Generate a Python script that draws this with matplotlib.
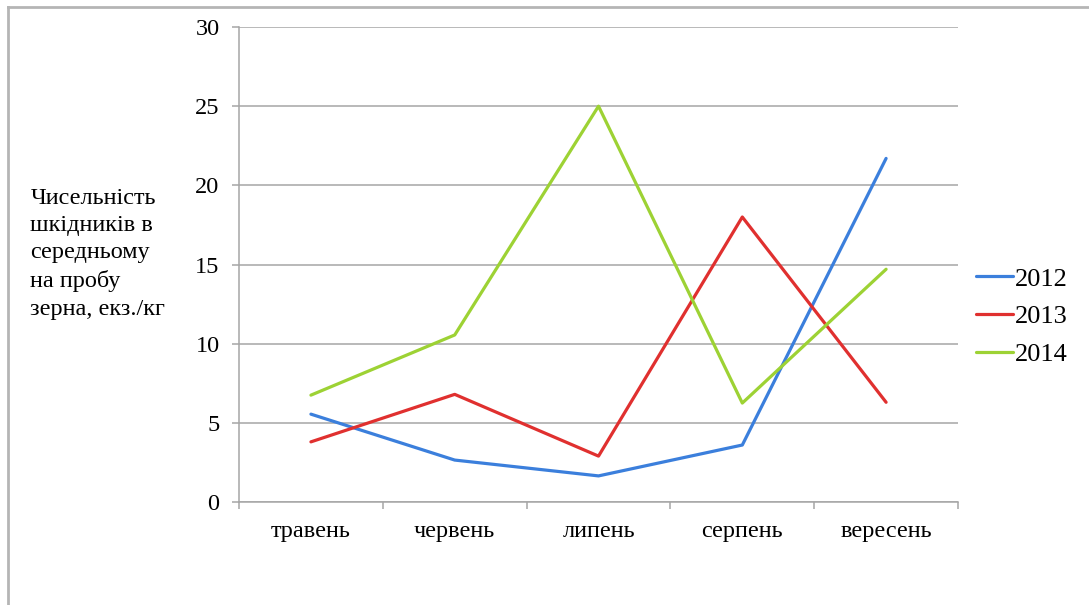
import matplotlib.pyplot as plt
from matplotlib.lines import Line2D
from matplotlib.ticker import FixedLocator

plt.rcParams['font.family'] = ['Liberation Serif', 'DejaVu Serif']

months = ['травень', 'червень', 'липень', 'серпень', 'вересень']
y2012 = [5.55, 2.65, 1.65, 3.6, 21.7]
y2013 = [3.8, 6.8, 2.9, 18.0, 6.3]
y2014 = [6.75, 10.55, 25.0, 6.25, 14.7]
years = ['2012', '2013', '2014']
colors = ['#3b7fdc', '#e0302f', '#9dd234']

fig = plt.figure(figsize=(10.89, 6.05), dpi=100)
ax = fig.add_axes([0.2195, 0.1702, 0.6602, 0.7852])

x = range(len(months))
for vals, name, c in zip([y2012, y2013, y2014], years, colors):
    ax.plot(x, vals, color=c, lw=2.3, label=name, solid_capstyle='round')

ax.set_xlim(-0.5, len(months) - 0.5)
ax.set_ylim(0, 30)
ax.set_yticks(range(0, 31, 5))
ax.set_xticks(list(x))
ax.set_xticklabels(months)
ax.xaxis.set_minor_locator(FixedLocator([i - 0.5 for i in range(len(months) + 1)]))

ax.grid(axis='y', color='#a6a6a6', lw=1.1)
ax.set_axisbelow(True)
for s in ['top', 'right']:
    ax.spines[s].set_visible(False)
for s in ['left', 'bottom']:
    ax.spines[s].set_color('#a6a6a6')
    ax.spines[s].set_linewidth(1.1)

ax.tick_params(axis='y', length=5, width=1.1, color='#a6a6a6', labelsize=17.5, pad=9)
ax.tick_params(axis='x', which='major', length=0, labelsize=17.5, pad=14)
ax.tick_params(axis='x', which='minor', length=5, width=1.1, color='#a6a6a6')

fig.text(0.028, 0.69, 'Чисельність\nшкідників в\nсередньому\nна пробу\nзерна, екз./кг',
         fontsize=17.5, va='top', ha='left', linespacing=1.4)

ax.legend(loc='center left', bbox_to_anchor=(0.992, 0.39), frameon=False,
          fontsize=19, handlelength=1.4, handletextpad=0.08, labelspacing=0.55)

# frame around the figure (left and top edges)
fig.add_artist(Line2D([0.0075, 0.0075], [0, 0.989], color='#b5b5b5', lw=2,
                      transform=fig.transFigure))
fig.add_artist(Line2D([0.0075, 1.0], [0.989, 0.989], color='#b5b5b5', lw=2,
                      transform=fig.transFigure))

fig.savefig('out.png', dpi=100)
